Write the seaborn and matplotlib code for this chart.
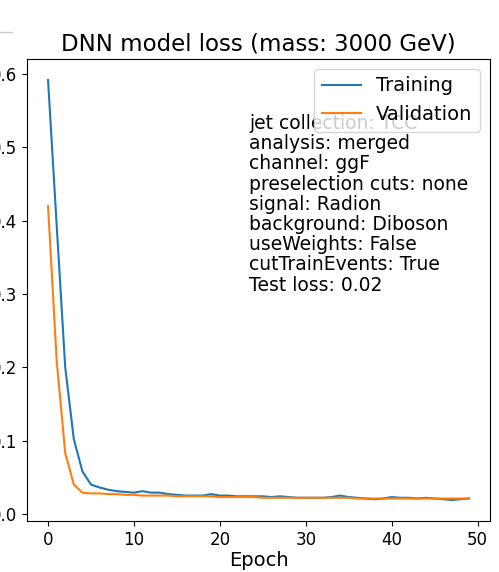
import numpy as np
import pandas as pd
import matplotlib
matplotlib.use('Agg')
import matplotlib.pyplot as plt
import seaborn as sns
from matplotlib.lines import Line2D

# loss values
epochs = list(range(50))
train_loss = [0.592, 0.395, 0.200, 0.102, 0.058, 0.040, 0.036, 0.033, 0.031, 0.030,
              0.029, 0.031, 0.029, 0.029, 0.027, 0.026, 0.025, 0.025, 0.025, 0.027,
              0.025, 0.025, 0.024, 0.024, 0.024, 0.024, 0.023, 0.024, 0.023, 0.022,
              0.022, 0.022, 0.022, 0.023, 0.025, 0.023, 0.022, 0.021, 0.020, 0.021,
              0.023, 0.022, 0.022, 0.021, 0.022, 0.021, 0.020, 0.019, 0.020, 0.021]
val_loss = [0.420, 0.210, 0.083, 0.040, 0.029, 0.028, 0.028, 0.027, 0.027, 0.026,
            0.026, 0.025, 0.025, 0.025, 0.025, 0.024, 0.024, 0.024, 0.024, 0.024,
            0.023, 0.023, 0.023, 0.023, 0.023, 0.022, 0.022, 0.022, 0.022, 0.022,
            0.022, 0.022, 0.022, 0.022, 0.022, 0.022, 0.021, 0.021, 0.021, 0.021,
            0.021, 0.021, 0.021, 0.021, 0.021, 0.021, 0.021, 0.021, 0.021, 0.021]

info_lines = ['jet collection: TCC', 'analysis: merged', 'channel: ggF',
              'preselection cuts: none', 'signal: Radion', 'background: Diboson',
              'useWeights: False', 'cutTrainEvents: True', 'Test loss: 0.02']

fig = plt.figure(figsize=(4.99, 5.72), dpi=100)
ax = fig.add_axes([0.0541, 0.0892, 0.9279, 0.8077])

sns.lineplot(x=epochs, y=train_loss, ax=ax, label='Training', color='#1f77b4', linewidth=1.5)
sns.lineplot(x=epochs, y=val_loss, ax=ax, label='Validation', color='#ff7f0e', linewidth=1.5)

ax.set_title('DNN model loss (mass: 3000 GeV)', fontsize=16.5)
ax.set_xlabel('Epoch', fontsize=14, labelpad=2)
ax.tick_params(labelsize=12)
ax.legend(loc='upper right', fontsize=14)
ax.text(0.48, 0.49, '\n'.join(info_lines), transform=ax.transAxes,
        fontsize=13.5, linespacing=1.08, va='bottom', ha='left')

# thin grey rule at the top left corner
fig.add_artist(Line2D([0, 12 / 499], [1 - 32 / 572, 1 - 32 / 572],
                      transform=fig.transFigure, color='#cccccc', linewidth=1))

fig.savefig('out.png', dpi=100)
